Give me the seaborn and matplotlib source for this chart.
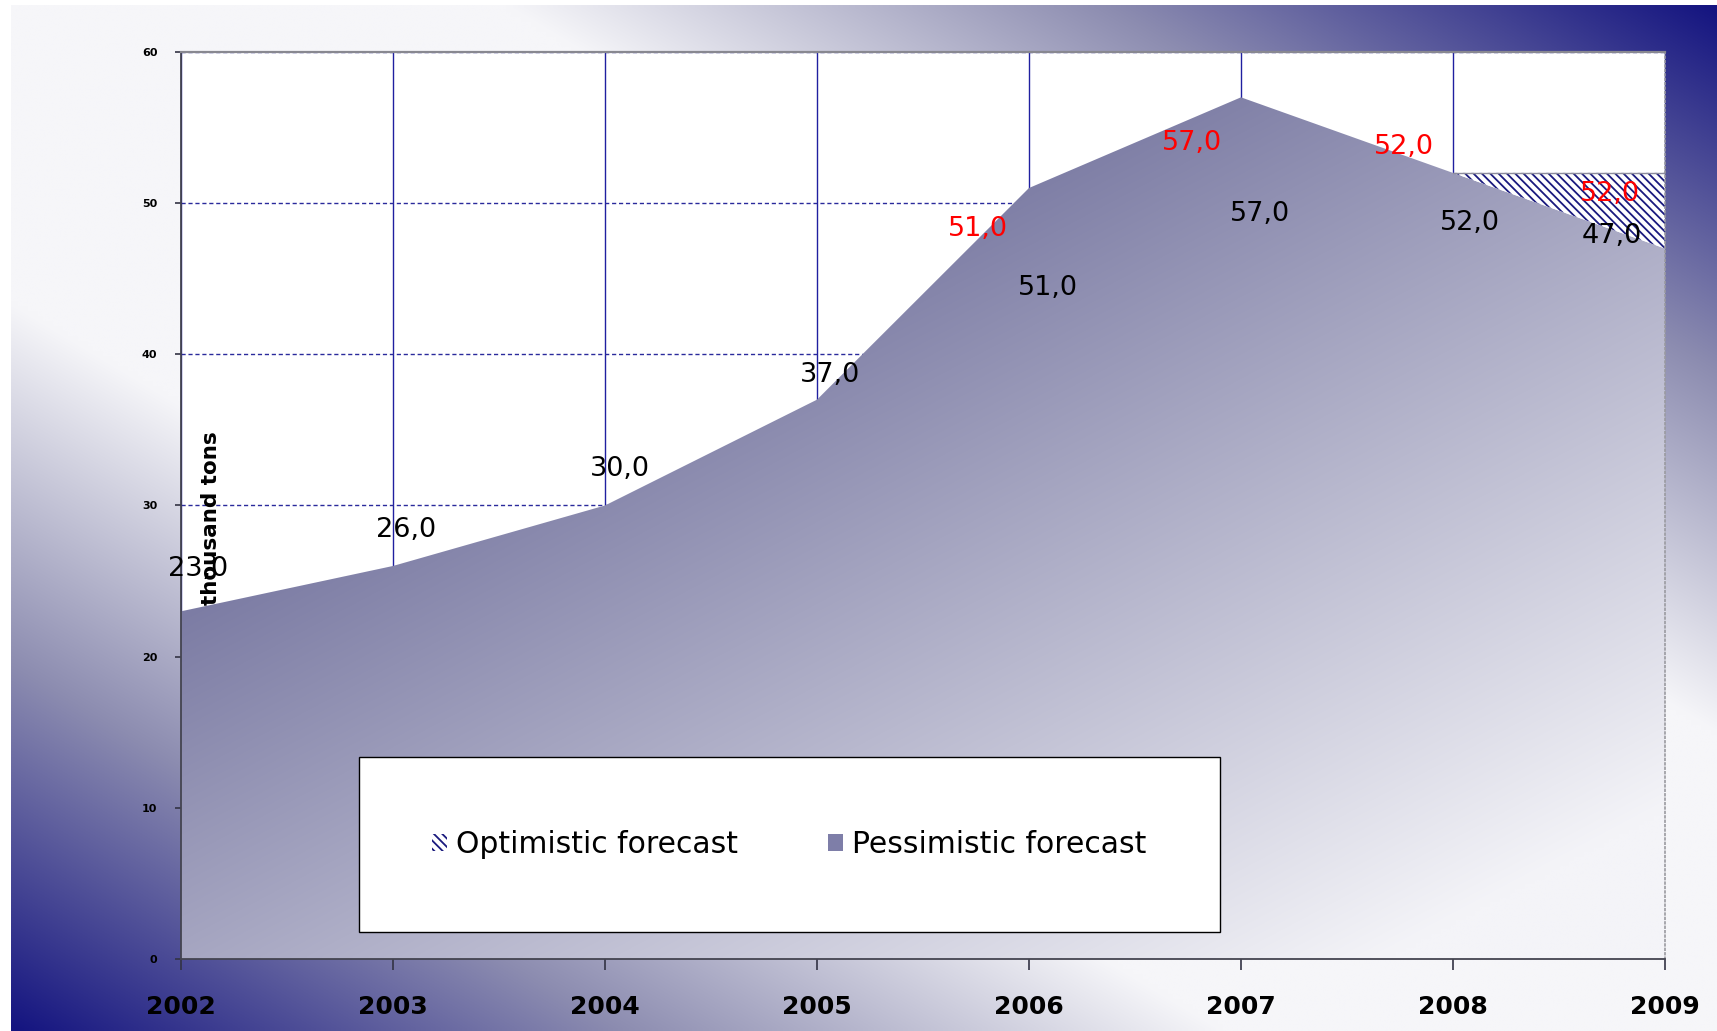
import numpy as np
import matplotlib
matplotlib.use("Agg")
import matplotlib.pyplot as plt
from matplotlib.patches import Patch
import pandas as pd
import seaborn as sns

# data
years = [2002, 2003, 2004, 2005, 2006, 2007, 2008, 2009]
pessimistic = [23.0, 26.0, 30.0, 37.0, 51.0, 57.0, 52.0, 47.0]
optimistic = [23.0, 26.0, 30.0, 37.0, 51.0, 57.0, 52.0, 52.0]
optimistic_labelled = [2006, 2007, 2008, 2009]
y_ticks = [0, 10, 20, 30, 40, 50, 60]

# label offsets (years, units) so text sits like the Excel labels
black_offsets = [(0.08, 2.8), (0.06, 2.4), (0.07, 2.4), (0.06, 1.6),
                 (0.09, -6.6), (0.09, -7.7), (0.08, -3.3), (-0.25, 0.8)]
red_offsets = [(-0.24, -2.7), (-0.23, -3.0), (-0.23, 1.7), (-0.26, -1.4)]

df = pd.DataFrame({"year": years, "pessimistic": pessimistic, "optimistic": optimistic})

sns.set_theme(style="ticks")
plt.rcParams["font.family"] = ["DejaVu Sans"]
plt.rcParams["hatch.linewidth"] = 1.3
plt.rcParams["text.color"] = "black"

fig = plt.figure(figsize=(17.17, 10.31), dpi=100, facecolor="white")

# background: light along the TL-BR diagonal, navy toward TR and BL corners
H, W = 206, 343
yy, xx = np.mgrid[0:H, 0:W]
u = xx / (W - 1)
w = yy / (H - 1)
s = np.clip((np.abs(u - w) - 0.29) / 0.71, 0, 1)
stops = [0.0, 0.5, 1.0]
cols = np.array([[246, 246, 249], [140, 140, 176], [20, 20, 128]]) / 255
bg = np.stack([np.interp(s, stops, cols[:, k]) for k in range(3)], axis=-1)
bg_ax = fig.add_axes([0.0064, 0.0, 0.9936, 0.995])
bg_ax.imshow(bg, aspect="auto", interpolation="bilinear")
bg_ax.axis("off")
bg_ax.set_zorder(-1)

ax = fig.add_axes([0.1054, 0.0698, 0.8643, 0.8798])
ax.set_facecolor("white")

# pessimistic area with diagonal gradient fill
poly = ax.fill_between(df["year"], 0, df["pessimistic"], facecolor="none", lw=0)
gh, gw = 200, 300
gy, gx = np.mgrid[0:gh, 0:gw]
gu = gx / (gw - 1)
gv = 1 - gy / (gh - 1)
t = np.clip(0.80 * gu + 0.92 * (1 - gv) - 0.57, 0, 1)
dark = np.array([124, 124, 164]) / 255
pale = np.array([244, 244, 248]) / 255
grad = dark * (1 - t)[..., None] + pale * t[..., None]
im = ax.imshow(grad, extent=[2002, 2009, 0, 60], origin="upper", aspect="auto",
               interpolation="bilinear", zorder=1)
im.set_clip_path(poly.get_paths()[0], transform=ax.transData)

# optimistic extra (hatched)
ax.fill_between(df["year"], df["pessimistic"], df["optimistic"], facecolor="white",
                edgecolor="#1a1a7e", hatch="\\\\\\\\", lw=0, zorder=2)
sns.lineplot(data=df[df["year"] >= 2008], x="year", y="optimistic", ax=ax,
             color="#8c8c9c", lw=1.0, zorder=3)

ax.set_xlim(2002, 2009)
ax.set_ylim(0, 60)
ax.set_xticks(years)
ax.set_xticklabels([str(y) for y in years], fontsize=18, fontweight="bold", color="black")
ax.set_yticks(y_ticks)
ax.set_yticklabels([str(v) for v in y_ticks], fontsize=8, fontweight="bold", color="black")
ax.tick_params(axis="x", direction="out", length=8, width=1.2, color="#333344", pad=18)
ax.tick_params(axis="y", direction="out", length=4, width=1.2, color="#333344", pad=13)
ax.set_xlabel("")

ax.set_axisbelow(True)
ax.xaxis.grid(True, ls="-", color="#2020a0", lw=1.0)
ax.yaxis.grid(True, ls=(0, (3, 2)), color="#2a2a9c", lw=1.0)

for side in ["left", "bottom"]:
    ax.spines[side].set_color("#444450")
    ax.spines[side].set_linewidth(1.3)
ax.spines["top"].set_color("#888890")
ax.spines["top"].set_linewidth(1.6)
ax.spines["right"].set_color("#9a9aa0")
ax.spines["right"].set_linestyle(":")
ax.spines["right"].set_linewidth(1.2)

ax.set_ylabel("thousand tons", fontsize=15.5, fontweight="bold", color="black")
ax.yaxis.set_label_coords(0.027, 0.486)

fmt = lambda v: f"{v:.1f}".replace(".", ",")
for (yr, v), (dx, dy) in zip(zip(years, pessimistic), black_offsets):
    ax.text(yr + dx, v + dy, fmt(v), ha="center", va="center", fontsize=19.5,
            color="black", zorder=6)
red_pairs = [(yr, v) for yr, v in zip(years, optimistic) if yr in optimistic_labelled]
for (yr, v), (dx, dy) in zip(red_pairs, red_offsets):
    ax.text(yr + dx, v + dy, fmt(v), ha="center", va="center", fontsize=19.5,
            color="#ff0000", zorder=6)

handles = [
    Patch(facecolor="white", edgecolor="#1a1a7e", hatch="\\\\\\\\", lw=0, label="Optimistic forecast"),
    Patch(facecolor="#7e7ea8", edgecolor="none", label="Pessimistic forecast"),
]
leg = ax.legend(handles=handles, loc="lower left", bbox_to_anchor=(0.12, 0.03, 0.58, 0.192),
                mode="expand", ncol=2, fontsize=21.5, frameon=True, fancybox=False,
                borderpad=2.45, borderaxespad=0, handlelength=0.5, handleheight=0.5,
                handletextpad=0.3)
leg.get_frame().set_edgecolor("black")
leg.get_frame().set_linewidth(1.0)
leg.get_frame().set_facecolor("white")
leg.get_frame().set_alpha(1.0)
for txt in leg.get_texts():
    txt.set_color("black")
leg.set_zorder(7)

fig.savefig("out.png", dpi=100)
